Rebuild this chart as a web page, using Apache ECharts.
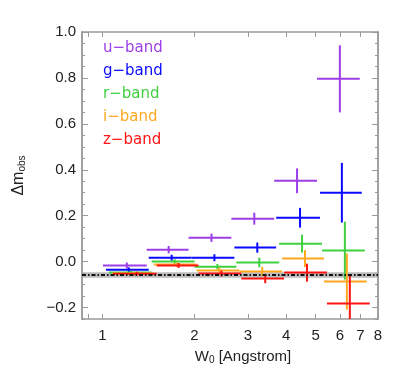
<!DOCTYPE html>
<html>
<head>
<meta charset="utf-8">
<script src="https://cdn.jsdelivr.net/npm/echarts@6/dist/echarts.min.js"></script>
<style>
html, body { margin: 0; padding: 0; background: #fff; }
#chart { width: 399px; height: 382px; }
</style>
</head>
<body>
<div id="chart"></div>
<script>
// bands (legend order)
var bandNames = ['u\u2212band', 'g\u2212band', 'r\u2212band', 'i\u2212band', 'z\u2212band'];
var bandColors = ['#9b3ee8', '#0a0aff', '#3fcf3f', '#ffa820', '#ff1414'];

// W0 [Angstrom]: bin mean, bin low edge, bin high edge; value and error
var uX   = [1.202, 1.648, 2.277, 3.145, 4.343, 5.999];
var uXlo = [1.004, 1.397, 1.915, 2.646, 3.655, 5.050];
var uXhi = [1.397, 1.915, 2.646, 3.655, 5.050, 6.972];
var uY   = [-0.017, 0.052, 0.104, 0.187, 0.352, 0.796];
var uErr = [0.013, 0.016, 0.018, 0.026, 0.054, 0.146];

var gX   = [1.220, 1.686, 2.328, 3.217, 4.442, 6.091];
var gXlo = [1.027, 1.418, 1.959, 2.706, 3.710, 5.165];
var gXhi = [1.418, 1.959, 2.706, 3.710, 5.165, 7.078];
var gY   = [-0.035, 0.017, 0.017, 0.061, 0.191, 0.300];
var gErr = [0.010, 0.013, 0.015, 0.022, 0.043, 0.130];

var rX   = [1.239, 1.724, 2.381, 3.266, 4.510, 6.230];
var rXlo = [1.050, 1.450, 2.004, 2.747, 3.795, 5.243];
var rXhi = [1.450, 2.004, 2.747, 3.795, 5.243, 7.240];
var rY   = [-0.048, 0.000, -0.022, -0.004, 0.078, 0.048];
var rErr = [0.008, 0.010, 0.012, 0.021, 0.039, 0.126];

var iX   = [1.267, 1.750, 2.417, 3.340, 4.612, 6.324];
var iXlo = [1.074, 1.472, 2.034, 2.809, 3.882, 5.322];
var iXhi = [1.472, 2.034, 2.809, 3.882, 5.322, 7.350];
var iY   = [-0.052, -0.013, -0.039, -0.043, 0.013, -0.087];
var iErr = [0.008, 0.010, 0.013, 0.020, 0.037, 0.122];

var zX   = [1.296, 1.777, 2.454, 3.416, 4.682, 6.468];
var zXlo = [1.082, 1.506, 2.065, 2.851, 3.940, 5.443];
var zXhi = [1.506, 2.065, 2.851, 3.940, 5.443, 7.516];
var zY   = [-0.053, -0.017, -0.052, -0.074, -0.048, -0.183];
var zErr = [0.009, 0.011, 0.013, 0.020, 0.039, 0.126];

// reference level and its scatter band
var refY = -0.058;
var refBand = 0.012;

// axes
var xRange = [0.857, 8.0];
var xTickLabels = [1, 2, 3, 4, 5, 6, 7, 8];
var xTicks = [0.9, 1, 2, 3, 4, 5, 6, 7, 8];
var yRange = [-0.25, 1.0];
var yMajor = [-0.2, 0.0, 0.2, 0.4, 0.6, 0.8, 1.0];
var yMinor = [-0.25, -0.15, -0.1, -0.05, 0.05, 0.1, 0.15, 0.25, 0.3, 0.35, 0.45, 0.5, 0.55,
              0.65, 0.7, 0.75, 0.85, 0.9, 0.95];

var lg = Math.log10;
var axisColor = '#9a9a9a';
var labelFont = 'Liberation Sans';

function crossSeries(idx, xs, xlo, xhi, ys, errs) {
    var color = bandColors[idx];
    var data = xs.map(function (x, i) {
        return [lg(x), ys[i], lg(xlo[i]), lg(xhi[i]), errs[i]];
    });
    return {
        name: bandNames[idx],
        type: 'custom',
        clip: true,
        z: 3 + idx,
        xAxisIndex: 0,
        yAxisIndex: 0,
        encode: { x: [0, 2, 3], y: [1] },
        data: data,
        renderItem: function (params, api) {
            var y = api.value(1), e = api.value(4);
            var l = api.coord([api.value(2), y]);
            var r = api.coord([api.value(3), y]);
            var t = api.coord([api.value(0), y + e]);
            var b = api.coord([api.value(0), y - e]);
            return {
                type: 'group',
                children: [
                    { type: 'line', shape: { x1: l[0], y1: l[1], x2: r[0], y2: r[1] },
                      style: { stroke: color, lineWidth: 2 } },
                    { type: 'line', shape: { x1: b[0], y1: b[1], x2: t[0], y2: t[1] },
                      style: { stroke: color, lineWidth: 2 } }
                ]
            };
        }
    };
}

var chart = echarts.init(document.getElementById('chart'));

function xAxisDef(pos, withLabel) {
    return {
        type: 'value',
        position: pos,
        min: lg(xRange[0]),
        max: lg(xRange[1]),
        axisLine: { show: true, onZero: false, lineStyle: { color: axisColor, width: 1.5 } },
        axisTick: { show: true, inside: true, length: 5, customValues: xTicks.map(lg),
                    lineStyle: { color: axisColor } },
        axisLabel: { show: withLabel, customValues: xTickLabels.map(lg), margin: 9,
                     color: '#222', fontSize: 15, fontFamily: labelFont,
                     formatter: function (v) { return String(Math.round(Math.pow(10, v))); } },
        splitLine: { show: false },
        name: withLabel ? 'W{sub|0} [Angstrom]' : '',
        nameLocation: 'middle',
        nameGap: 30,
        nameTextStyle: { color: '#222', fontSize: 15, fontFamily: labelFont, padding: [0, 0, 0, 26],
                         rich: { sub: { fontSize: 10, verticalAlign: 'bottom', padding: [6, 0, 0, 0],
                                        fontFamily: labelFont, color: '#222' } } }
    };
}

function yAxisDef(pos, ticks, len, withLabel) {
    return {
        type: 'value',
        position: pos,
        min: yRange[0],
        max: yRange[1],
        axisLine: { show: true, onZero: false, lineStyle: { color: axisColor, width: 1.5 } },
        axisTick: { show: true, inside: true, length: len, customValues: ticks,
                    lineStyle: { color: axisColor } },
        axisLabel: { show: withLabel, customValues: yMajor, margin: 6,
                     color: '#222', fontSize: 15, fontFamily: labelFont,
                     formatter: function (v) { return v.toFixed(1).replace('-', '\u2212'); } },
        splitLine: { show: false },
        name: withLabel ? '\u0394m{sub|obs}' : '',
        nameLocation: 'middle',
        nameGap: 55,
        nameRotate: 90,
        nameTextStyle: { color: '#222', fontSize: 16, fontFamily: labelFont,
                         rich: { sub: { fontSize: 10, verticalAlign: 'bottom', padding: [6, 0, 0, 0],
                                        fontFamily: labelFont, color: '#222' } } }
    };
}

var legendText = bandNames.map(function (n, i) {
    return {
        type: 'text',
        left: 103,
        top: 41 + i * 23,
        style: { text: n, fill: bandColors[i], font: '15px "DejaVu Sans"' }
    };
});

var option = {
    animation: false,
    backgroundColor: '#fff',
    grid: { left: 82, right: 21, top: 32, bottom: 63, containLabel: false },
    xAxis: [xAxisDef('bottom', true), xAxisDef('top', false)],
    yAxis: [
        yAxisDef('left', yMajor, 6, true),
        yAxisDef('left', yMinor, 3, false),
        yAxisDef('right', yMajor, 6, false),
        yAxisDef('right', yMinor, 3, false)
    ],
    graphic: legendText,
    series: [
        {
            type: 'line',
            xAxisIndex: 0,
            yAxisIndex: 0,
            z: 10,
            symbol: 'none',
            silent: true,
            data: [[lg(xRange[0]), refY], [lg(xRange[1]), refY]],
            lineStyle: { color: '#111', width: 2, type: [4, 2, 1.5, 2] },
            markArea: {
                silent: true,
                itemStyle: { color: 'rgba(160,160,160,0.7)' },
                data: [[{ yAxis: refY - refBand }, { yAxis: refY + refBand }]]
            }
        },
        crossSeries(0, uX, uXlo, uXhi, uY, uErr),
        crossSeries(1, gX, gXlo, gXhi, gY, gErr),
        crossSeries(2, rX, rXlo, rXhi, rY, rErr),
        crossSeries(3, iX, iXlo, iXhi, iY, iErr),
        crossSeries(4, zX, zXlo, zXhi, zY, zErr)
    ]
};

chart.setOption(option);
</script>
</body>
</html>
